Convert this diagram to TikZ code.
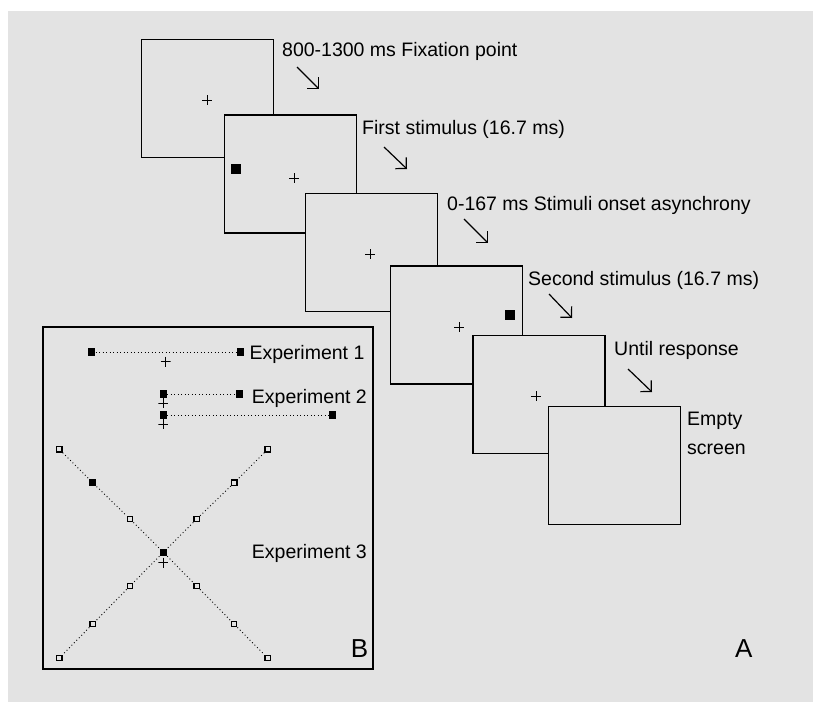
\documentclass[tikz,border=0pt]{standalone}
\usepackage{fontspec}
\setmainfont{Liberation Sans}
\usetikzlibrary{arrows.meta}
\definecolor{panelgrey}{RGB}{227,227,227}

\begin{document}
\begin{tikzpicture}[x=1pt, y=-1pt,
  font=\fontsize{19.5}{28.3}\selectfont,
  screenbox/.style={draw, line width=1.2pt, fill=panelgrey, inner sep=0pt,
    minimum width=132pt, minimum height=118pt},
  fixcross/.style={minimum size=10pt, inner sep=0pt,
    path picture={\draw[line width=0.9pt]
      (path picture bounding box.north) -- (path picture bounding box.south)
      (path picture bounding box.west) -- (path picture bounding box.east);}},
  stimsq/.style={fill=black, minimum size=10pt, inner sep=0pt},
  possq/.style={fill=black, minimum size=7.5pt, inner sep=0pt},
  opensq/.style={draw, line width=1.3pt, fill=panelgrey, minimum size=5.5pt, inner sep=0pt},
  trail/.style={line width=0.9pt, dash pattern=on 0.9pt off 2.6pt},
  nextstep/.style={line width=1.2pt, -{Straight Barb[angle=90:11pt]}},
  caption/.style={anchor=base west, inner sep=0pt}]
\useasboundingbox (0,0) rectangle (813,702);
\fill[white] (0,0) rectangle (813,702);
\fill[panelgrey] (8,11) rectangle (813,702);

% Trial sequence
\node[screenbox] (fixscr) at (207.5,98.5) {};
\node[fixcross] (fix1) at (207,100) {};
\node[caption] (tfix) at (282,56.7) {800-1300 ms Fixation point};
\coordinate (a1s) at (297,67);
\coordinate (a1e) at (319,89);
\draw[nextstep] (a1s) -- (a1e);

\node[screenbox] (firstscr) at (290.5,174) {};
\node[stimsq] (stim1) at (236,169) {};
\node[fixcross] (fix2) at (294,178) {};
\node[caption] (tfirst) at (362,134.3) {First stimulus (16.7 ms)};
\coordinate (a2s) at (384,147);
\coordinate (a2e) at (407,169);
\draw[nextstep] (a2s) -- (a2e);

\node[screenbox] (soascr) at (371.5,252.5) {};
\node[fixcross] (fix3) at (370,254) {};
\node[caption] (tsoa) at (447,210.7) {0-167 ms Stimuli onset asynchrony};
\coordinate (a3s) at (464,219);
\coordinate (a3e) at (488,243);
\draw[nextstep] (a3s) -- (a3e);

\node[screenbox] (secondscr) at (456.5,325) {};
\node[stimsq] (stim2) at (510,315) {};
\node[fixcross] (fix4) at (459,327) {};
\node[caption] (tsecond) at (528,285) {Second stimulus (16.7 ms)};
\coordinate (a4s) at (549,294);
\coordinate (a4e) at (572,318);
\draw[nextstep] (a4s) -- (a4e);

\node[screenbox] (respscr) at (539,394.5) {};
\node[fixcross] (fix5) at (536,396) {};
\node[caption] (tresp) at (614,355) {Until response};
\coordinate (a5s) at (628,369);
\coordinate (a5e) at (652,392);
\draw[nextstep] (a5s) -- (a5e);

\node[screenbox] (emptyscr) at (614.5,465.5) {};
\node[caption, align=left] (tempty) at (687,454) {Empty\\screen};
\node[caption, font=\fontsize{26}{30}\selectfont] (tA) at (735,657) {A};

% Stimulus positions
\node[draw, line width=1.5pt, fill=panelgrey, minimum width=330pt, minimum height=342pt] (panelB) at (208,498) {};
\node[caption, font=\fontsize{26}{30}\selectfont] (tB) at (350.7,657.7) {B};

% Experiment 1
\node[possq] (e1l) at (91.7,352) {};
\node[possq] (e1r) at (240.7,352) {};
\draw[trail] (e1l) -- (e1r);
\node[fixcross] (e1fix) at (165.7,361.7) {};
\node[caption] (te1) at (249.3,359.3) {Experiment 1};

% Experiment 2
\node[possq] (e2al) at (163.3,394) {};
\node[possq] (e2ar) at (239.3,394) {};
\draw[trail] (e2al) -- (e2ar);
\node[fixcross] (e2afix) at (163.3,403.3) {};
\node[possq] (e2bl) at (163.3,415) {};
\node[possq] (e2br) at (332.3,415) {};
\draw[trail] (e2bl) -- (e2br);
\node[fixcross] (e2bfix) at (163.3,424) {};
\node[caption] (te2) at (251.7,403.3) {Experiment 2};

% Experiment 3
\node[possq] (e3c) at (163.3,552.3) {};
\node[opensq] (nw1) at (130,519) {};
\node[possq] (nw2) at (92.7,482.7) {};
\node[opensq] (nw3) at (59.3,449.3) {};
\node[opensq] (se1) at (196.7,586) {};
\node[opensq] (se2) at (234,624) {};
\node[opensq] (se3) at (267.7,658) {};
\node[opensq] (ne1) at (196.7,519) {};
\node[opensq] (ne2) at (234.3,482.7) {};
\node[opensq] (ne3) at (267.7,449.3) {};
\node[opensq] (sw1) at (130,586) {};
\node[opensq] (sw2) at (92.7,624) {};
\node[opensq] (sw3) at (59.3,658) {};
\draw[trail] (nw3) -- (nw2) -- (nw1) -- (e3c) -- (se1) -- (se2) -- (se3);
\draw[trail] (ne3) -- (ne2) -- (ne1) -- (e3c) -- (sw1) -- (sw2) -- (sw3);
\node[fixcross] (e3fix) at (163.3,562.7) {};
\node[caption] (te3) at (251.7,558.7) {Experiment 3};
\end{tikzpicture}
\end{document}
